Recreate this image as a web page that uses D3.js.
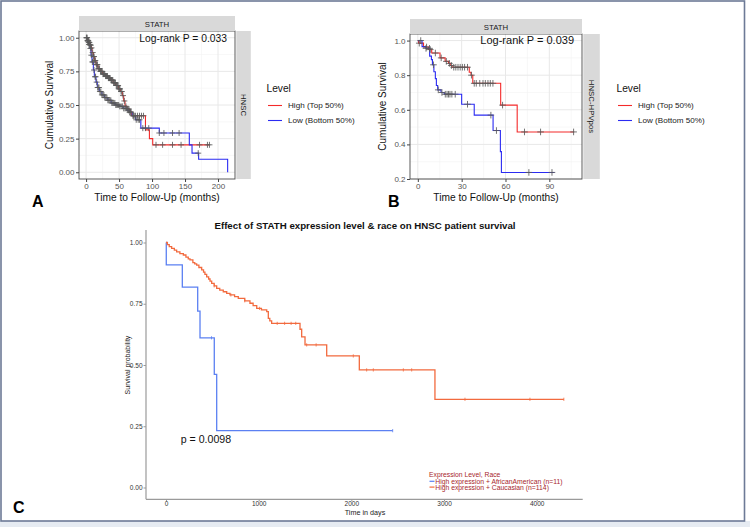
<!DOCTYPE html>
<html>
<head>
<meta charset="utf-8">
<script src="https://cdnjs.cloudflare.com/ajax/libs/d3/7.8.5/d3.min.js"></script>
<style>
body { margin: 0; background: #fff; }
svg { display: block; font-family: "Liberation Sans", Arial, sans-serif; }
</style>
</head>
<body>
<div id="fig"></div>
<script>
// ---- Panel A : STATH / HNSC (months) ----
const aTicksX = [0, 50, 100, 150, 200];
const aTicksY = [0, 0.25, 0.5, 0.75, 1];
const aHigh = [[0,1],[2,0.98],[4,0.965],[6,0.945],[8,0.925],[9,0.89],[11,0.86],[13,0.83],[15,0.80],[18,0.77],[21,0.75],
  [25,0.73],[29,0.715],[33,0.70],[37,0.685],[41,0.665],[45,0.645],[49,0.62],[52,0.60],[55,0.57],[57,0.53],[59,0.49],
  [62,0.47],[66,0.45],[69,0.42],[90,0.315],[96,0.25],[101,0.204]];
const aHighEnd = 187;
const aLow = [[0,1],[2,0.975],[4,0.95],[6,0.92],[7.5,0.87],[9,0.82],[11,0.76],[12.5,0.71],[15,0.67],[17,0.63],[20,0.60],
  [24,0.575],[28,0.555],[33,0.535],[38,0.515],[44,0.50],[50,0.49],[56,0.475],[62,0.46],[66,0.445],[70,0.42],[75,0.39],
  [83,0.328],[111,0.292],[156.5,0.204],[160.6,0.142],[170.6,0.097],[214.6,0]];
const aLowEnd = 214.6;
const aHighCensor = [1,2.2,3,4.1,5,6.3,7,8.2,10,11.4,12,13.3,14,15.6,16.4,17.2,18.5,19.6,20.4,21.8,22.6,23.5,24.4,25.7,
  26.5,27.4,28.3,29.6,30.4,31.3,32.5,33.8,34.6,35.5,36.3,37.8,38.6,39.4,40.5,41.8,42.6,43.5,44.4,45.7,46.6,47.4,48.5,
  49.6,50.5,51.4,53,54.2,56,58,60.4,63,65,67.5,72,75,78,81,84,87,106,116,131,144,172,184,187];
const aLowCensor = [0.5,1.5,2.6,3.5,4.4,5.5,6.6,8,9.5,10.4,12,13.6,14.4,16,17.6,18.4,19.5,21,22.4,24,25.6,27,28.4,30,
  31.6,33,34.4,36,37.5,39,40.4,42,43.6,45,46.5,48,49.4,51,53,55,57,59,61,64,66,68,71,73,76,79,81,86,90,95,111,118,131,141,170];

// ---- Panel B : STATH / HNSC-HPVpos (months) ----
const bTicksX = [0, 30, 60, 90];
const bTicksY = [0.2, 0.4, 0.6, 0.8, 1.0];
const bHigh = [[0,1],[0.5,0.985],[3.9,0.963],[7.3,0.948],[9.5,0.928],[15.2,0.90],[18.7,0.88],[21,0.868],[22.2,0.856],
  [23.4,0.846],[35.2,0.817],[36.4,0.80],[37.6,0.753],[56.7,0.627],[68,0.472]];
const bHighEnd = 107;
const bLow = [[0,1],[2.9,0.965],[5.6,0.955],[8.1,0.91],[9.3,0.89],[10,0.86],[11,0.82],[12,0.78],[12.7,0.74],[13.6,0.715],
  [15.9,0.70],[18.1,0.69],[30,0.632],[38.6,0.569],[51.5,0.48],[56.5,0.358],[57.2,0.238]];
const bLowEnd = 93.5;
const bHighCensor = [1,6,8.5,12,16,19.5,21.6,23,24.6,26,27.5,29,30.5,32,34,36.7,38.6,40,42.4,44.6,46.2,48,49.6,51.4,58,73,84,106.6];
const bLowCensor = [2,5.6,8,10.7,14,16.5,18.8,20,21,22,23.3,25.6,34,50,53.8,76,91.8];

// ---- Panel C : race (days) ----
const cTicksX = [0, 1000, 2000, 3000, 4000];
const cTicksY = [0, 0.25, 0.5, 0.75, 1];
const cAfr = [[0,1],[3,0.909],[176,0.818],[342,0.72],[367,0.611],[521,0.462],[547,0.232]];
const cAfrEnd = 2446;
const cAfrCensor = [491, 2446];
const cCau = [[0,1],[15,0.991],[35,0.983],[61,0.976],[90,0.969],[115,0.962],[150,0.955],[187,0.949],[215,0.94],
  [240,0.933],[259,0.929],[290,0.918],[310,0.913],[331,0.908],[355,0.898],[385,0.888],[405,0.879],[420,0.87],
  [439,0.86],[460,0.851],[475,0.842],[493,0.833],[520,0.823],[547,0.813],[580,0.806],[618,0.799],[655,0.792],
  [690,0.786],[740,0.779],[780,0.772],[850,0.762],[906,0.752],[940,0.742],[979,0.731],[1030,0.725],[1087,0.718],
  [1104,0.69],[1120,0.68],[1140,0.67],[1446,0.646],[1464,0.615],[1500,0.582],[1734,0.537],[2086,0.48],[2902,0.36]];
const cCauEnd = 4293;
const cCauCensor = [520,700,850,1010,1200,1280,1350,1400,1518,1620,2021,2165,2237,2561,2651,3226,3927,4293];

const W = 750, H = 527;
const svg = d3.select("#fig").append("svg").attr("width", W).attr("height", H);

// frame
svg.append("rect").attr("x", 0).attr("y", 521).attr("width", W).attr("height", 6).attr("fill", "#e6ebf2");
svg.append("rect").attr("x", 1).attr("y", 1).attr("width", 743.5).attr("height", 520)
  .attr("fill", "#fff").attr("stroke", "#6d7a96").attr("stroke-width", 1.6);

function survAt(steps, t) {
  let s = steps[0][1];
  steps.forEach(d => { if (d[0] <= t) s = d[1]; });
  return s;
}
function stepPath(x, y, steps, endT) {
  const pts = steps.map(d => [x(d[0]), y(d[1])]);
  pts.push([x(endT), y(steps[steps.length - 1][1])]);
  return d3.line().curve(d3.curveStepAfter)(pts);
}

// ggplot-like facet panel (A and B)
function ggPanel(o) {
  const g = svg.append("g");
  const x = d3.scaleLinear().domain(o.xDomain).range([o.left, o.right]);
  const y = d3.scaleLinear().domain(o.yDomain).range([o.bottom, o.top]);
  g.append("rect").attr("x", o.left).attr("y", o.top).attr("width", o.right - o.left).attr("height", o.bottom - o.top).attr("fill", "#fff");
  // grid
  g.selectAll(".mnx").data(o.xMinor).enter().append("line")
    .attr("x1", d => x(d)).attr("x2", d => x(d)).attr("y1", o.top).attr("y2", o.bottom)
    .attr("stroke", "#f3f3f3").attr("stroke-width", 0.6);
  g.selectAll(".mny").data(o.yMinor).enter().append("line")
    .attr("y1", d => y(d)).attr("y2", d => y(d)).attr("x1", o.left).attr("x2", o.right)
    .attr("stroke", "#f3f3f3").attr("stroke-width", 0.6);
  g.selectAll(".mjx").data(o.xTicks).enter().append("line")
    .attr("x1", d => x(d)).attr("x2", d => x(d)).attr("y1", o.top).attr("y2", o.bottom)
    .attr("stroke", "#e8e8e8").attr("stroke-width", 1);
  g.selectAll(".mjy").data(o.yTicks).enter().append("line")
    .attr("y1", d => y(d)).attr("y2", d => y(d)).attr("x1", o.left).attr("x2", o.right)
    .attr("stroke", "#e8e8e8").attr("stroke-width", 1);

  // curves
  o.curves.forEach(c => {
    g.append("path").attr("d", stepPath(x, y, c.steps, c.end))
      .attr("fill", "none").attr("stroke", c.color).attr("stroke-width", 1.1);
  });
  // censor marks
  const cs = o.cross;
  o.curves.forEach(c => {
    g.append("g").selectAll("path").data(c.censor).enter().append("path")
      .attr("transform", d => `translate(${x(d)},${y(survAt(c.steps, d))})`)
      .attr("d", `M${-cs},0H${cs}M0,${-cs}V${cs}`)
      .attr("stroke", "#5a5a5a").attr("stroke-width", 0.85).attr("fill", "none");
  });

  g.append("rect").attr("x", o.left).attr("y", o.top).attr("width", o.right - o.left).attr("height", o.bottom - o.top)
    .attr("fill", "none").attr("stroke", "#4a4a4a").attr("stroke-width", 0.9);

  // axes
  const ax = g.append("g").attr("transform", `translate(0,${o.bottom})`)
    .call(d3.axisBottom(x).tickValues(o.xTicks).tickSize(3).tickPadding(1.5).tickFormat(d3.format("d")));
  const ay = g.append("g").attr("transform", `translate(${o.left},0)`)
    .call(d3.axisLeft(y).tickValues(o.yTicks).tickSize(3).tickPadding(1.5).tickFormat(d3.format(o.yFmt)));
  [ax, ay].forEach(a => {
    a.select(".domain").remove();
    a.selectAll("line").attr("stroke", "#444");
    a.selectAll("text").attr("fill", "#555").attr("font-size", 8).attr("font-family", "Liberation Sans, Arial, sans-serif");
  });

  // strips
  g.append("rect").attr("x", o.left).attr("y", o.top - 15).attr("width", o.right - o.left).attr("height", 15).attr("fill", "#d9d9d9");
  g.append("text").attr("x", (o.left + o.right) / 2).attr("y", o.top - 4.5).attr("text-anchor", "middle")
    .attr("font-size", 7.8).attr("fill", "#1a1a1a").text(o.stripTop);
  const rx = o.right + 1.3;
  g.append("rect").attr("x", rx).attr("y", o.top).attr("width", o.stripW).attr("height", o.bottom - o.top).attr("fill", "#d9d9d9");
  g.append("text").attr("transform", `translate(${rx + o.stripW / 2 - 2.8},${(o.top + o.bottom) / 2}) rotate(90)`)
    .attr("text-anchor", "middle").attr("font-size", 7.8).attr("fill", "#1a1a1a").text(o.stripRight);

  // titles
  g.append("text").attr("x", o.right - 8).attr("y", y(1) + 3.8).attr("text-anchor", "end")
    .attr("font-size", o.pSize).attr("fill", "#111").text(o.pval);
  g.append("text").attr("transform", `translate(${o.ytx},${(o.top + o.bottom) / 2}) rotate(-90)`)
    .attr("text-anchor", "middle").attr("font-size", 10).attr("fill", "#111").text("Cumulative Survival");
  g.append("text").attr("x", (o.left + o.right) / 2).attr("y", 200.5).attr("text-anchor", "middle")
    .attr("font-size", 10.2).attr("fill", "#111").text("Time to Follow-Up (months)");

  // legend
  const lg = g.append("g").attr("transform", `translate(${o.legX},0)`);
  lg.append("text").attr("x", 0).attr("y", 92).attr("font-size", 10.2).attr("fill", "#111").text("Level");
  o.curves.forEach((c, i) => {
    const yy = 105.5 + i * 15;
    lg.append("line").attr("x1", 1.5).attr("x2", 15.5).attr("y1", yy).attr("y2", yy).attr("stroke", c.color).attr("stroke-width", 1.1);
    lg.append("text").attr("x", 21.5).attr("y", yy + 2.9).attr("font-size", 8.1).attr("fill", "#222").text(c.label);
  });

  // panel letter
  g.append("text").attr("x", o.letterX).attr("y", 207).attr("font-size", 16).attr("font-weight", "bold")
    .attr("fill", "#000").text(o.letter);
}

ggPanel({
  left: 79, right: 235, top: 31, bottom: 179,
  xDomain: [-10.75, 225.75], yDomain: [-0.05, 1.05],
  xTicks: aTicksX, yTicks: aTicksY, xMinor: [25, 75, 125, 175], yMinor: [0.125, 0.375, 0.625, 0.875],
  yFmt: ".2f", cross: 3,
  curves: [
    { steps: aHigh, end: aHighEnd, censor: aHighCensor, color: "#f42a2a", label: "High (Top 50%)" },
    { steps: aLow, end: aLowEnd, censor: aLowCensor, color: "#2b2bf2", label: "Low (Bottom 50%)" }
  ],
  stripTop: "STATH", stripRight: "HNSC", stripW: 14.5,
  pval: "Log-rank P = 0.033", pSize: 10.3, ytx: 53, legX: 266.5, letter: "A", letterX: 32
});

ggPanel({
  left: 410, right: 582, top: 34, bottom: 179,
  xDomain: [-5.35, 112.35], yDomain: [0.2, 1.038],
  xTicks: bTicksX, yTicks: bTicksY, xMinor: [15, 45, 75, 105], yMinor: [0.3, 0.5, 0.7, 0.9],
  yFmt: ".1f", cross: 3.3,
  curves: [
    { steps: bHigh, end: bHighEnd, censor: bHighCensor, color: "#f42a2a", label: "High (Top 50%)" },
    { steps: bLow, end: bLowEnd, censor: bLowCensor, color: "#2b2bf2", label: "Low (Bottom 50%)" }
  ],
  stripTop: "STATH", stripRight: "HNSC-HPVpos", stripW: 16.5,
  pval: "Log-rank P = 0.039", pSize: 11, ytx: 386, legX: 616.5, letter: "B", letterX: 388
});

// ---- Panel C ----
(function () {
  const g = svg.append("g");
  const x = d3.scaleLinear().domain([0, 4000]).range([166, 536.7]);
  const y = d3.scaleLinear().domain([0, 1]).range([487.5, 242.5]);
  const axisCol = "#9a9a9a";

  g.append("text").attr("x", 365).attr("y", 228.5).attr("text-anchor", "middle").attr("font-size", 9.7)
    .attr("font-weight", "bold").attr("fill", "#111").text("Effect of STATH expression level & race on HNSC patient survival");

  g.append("line").attr("x1", 146).attr("x2", 146).attr("y1", 230).attr("y2", 499.3).attr("stroke", axisCol).attr("stroke-width", 1.2);
  g.append("line").attr("x1", 146).attr("x2", 582.7).attr("y1", 499.3).attr("y2", 499.3).attr("stroke", axisCol).attr("stroke-width", 1.2);

  const ax = g.append("g").attr("transform", "translate(0,499.3)")
    .call(d3.axisBottom(x).tickValues(cTicksX).tickSize(2).tickPadding(0).tickFormat(d3.format("d")));
  const ay = g.append("g").attr("transform", "translate(146,0)")
    .call(d3.axisLeft(y).tickValues(cTicksY).tickSize(2.5).tickPadding(1).tickFormat(d3.format(".2f")));
  [ax, ay].forEach(a => {
    a.select(".domain").remove();
    a.selectAll("line").attr("stroke", axisCol);
    a.selectAll("text").attr("fill", "#333").attr("font-size", 6.5).attr("font-family", "Liberation Sans, Arial, sans-serif");
  });

  g.append("text").attr("x", 365).attr("y", 515).attr("text-anchor", "middle").attr("font-size", 7.2).attr("fill", "#222").text("Time in days");
  g.append("text").attr("transform", "translate(129.5,365) rotate(-90)").attr("text-anchor", "middle")
    .attr("font-size", 7).attr("fill", "#222").text("Survival probability");

  const curves = [
    { steps: cAfr, end: cAfrEnd, censor: cAfrCensor, color: "#5b80f2", label: "High expression + AfricanAmerican (n=11)" },
    { steps: cCau, end: cCauEnd, censor: cCauCensor, color: "#f26a3e", label: "High expression + Caucasian (n=114)" }
  ];
  curves.forEach(c => {
    g.append("path").attr("d", stepPath(x, y, c.steps, c.end)).attr("fill", "none")
      .attr("stroke", c.color).attr("stroke-width", 1.3);
    g.append("g").selectAll("line").data(c.censor).enter().append("line")
      .attr("x1", d => x(d)).attr("x2", d => x(d))
      .attr("y1", d => y(survAt(c.steps, d)) - 1.6).attr("y2", d => y(survAt(c.steps, d)) + 1.6)
      .attr("stroke", c.color).attr("stroke-width", 0.8);
  });

  g.append("text").attr("x", 180.7).attr("y", 442.8).attr("font-size", 10.6).attr("fill", "#111").text("p = 0.0098");

  const lg = g.append("g").attr("transform", "translate(429,0)");
  lg.append("text").attr("x", 0).attr("y", 477.2).attr("font-size", 6.8).attr("fill", "#a8262c").text("Expression Level, Race");
  curves.forEach((c, i) => {
    const yy = 481.3 + i * 5.8;
    lg.append("line").attr("x1", 0.5).attr("x2", 5.5).attr("y1", yy).attr("y2", yy).attr("stroke", c.color).attr("stroke-width", 1.2);
    lg.append("text").attr("x", 6.3).attr("y", yy + 2.4).attr("font-size", 6.8).attr("fill", "#a8262c").text(c.label);
  });

  svg.append("text").attr("x", 13).attr("y", 512.5).attr("font-size", 16).attr("font-weight", "bold").attr("fill", "#000").text("C");
})();
</script>
</body>
</html>
